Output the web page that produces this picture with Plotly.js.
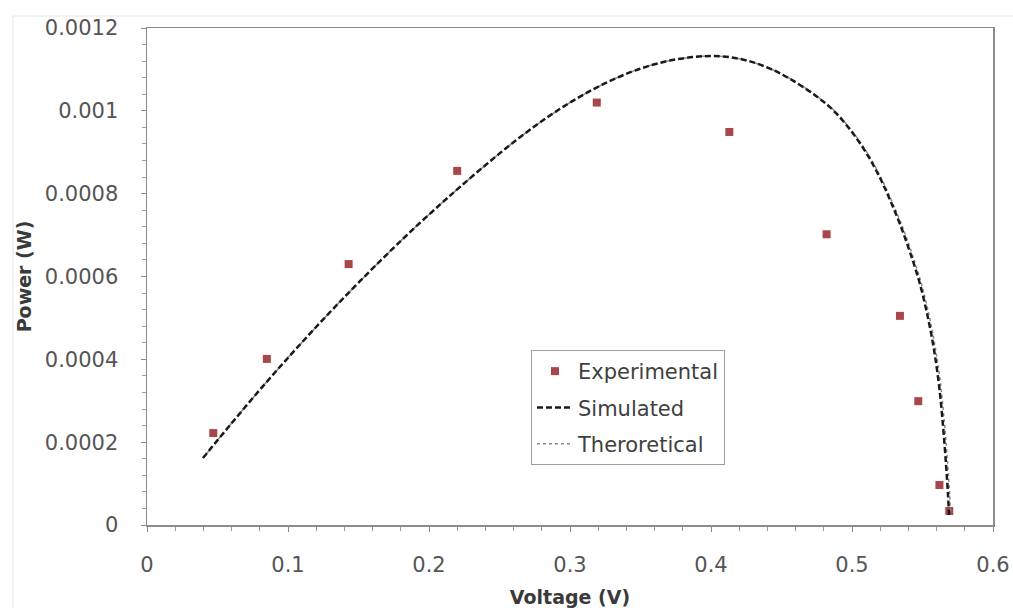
<!DOCTYPE html>
<html>
<head>
<meta charset="utf-8">
<script src="https://cdn.plot.ly/plotly-3.0.1.min.js"></script>
<style>
  html, body { margin: 0; padding: 0; background: #ffffff; }
  #chart { width: 1013px; height: 608px; }
</style>
</head>
<body>
<div id="chart"></div>
<script>
// Experimental measurements
const expVoltage = [0.047, 0.085, 0.143, 0.220, 0.319, 0.413, 0.482, 0.534, 0.547, 0.562, 0.569];
const expPower   = [0.000222, 0.000401, 0.000630, 0.000855, 0.00102, 0.000949, 0.000702, 0.000505, 0.000299, 0.0000966, 0.0000338];

// Simulated curve
const simVoltage = [0.0397, 0.0589, 0.0801, 0.1014, 0.1227, 0.1440, 0.1653, 0.1865, 0.2078, 0.2220, 0.2433, 0.2645, 0.2858, 0.3071, 0.3284, 0.3497, 0.3709, 0.3887, 0.4007, 0.4135, 0.4277, 0.4418, 0.4560, 0.4745, 0.4865, 0.4986, 0.5106, 0.5199, 0.5270, 0.5340, 0.5411, 0.5482, 0.5539, 0.5582, 0.5617, 0.5645, 0.5667, 0.5681, 0.5688];
const simPower   = [0.0001618, 0.0002412, 0.0003267, 0.0004090, 0.0004882, 0.0005643, 0.0006372, 0.0007070, 0.0007736, 0.0008163, 0.0008782, 0.0009363, 0.0009887, 0.0010344, 0.0010723, 0.0011017, 0.0011215, 0.0011302, 0.0011322, 0.0011295, 0.0011194, 0.0011020, 0.0010773, 0.0010358, 0.0010020, 0.0009549, 0.0008958, 0.0008378, 0.0007847, 0.0007268, 0.0006592, 0.0005819, 0.0004998, 0.0004225, 0.0003380, 0.0002414, 0.0001449, 0.0000724, 0.0000241];

// Theoretical curve
const theoVoltage = [0.0397, 0.0589, 0.0801, 0.1014, 0.1227, 0.1440, 0.1653, 0.1865, 0.2078, 0.2220, 0.2433, 0.2645, 0.2858, 0.3071, 0.3284, 0.3497, 0.3709, 0.3887, 0.4007, 0.4135, 0.4277, 0.4418, 0.4562, 0.4749, 0.4870, 0.4992, 0.5113, 0.5207, 0.5279, 0.5350, 0.5422, 0.5493, 0.5551, 0.5594, 0.5629, 0.5657, 0.5679, 0.5693, 0.5700];
const theoPower  = [0.0001618, 0.0002412, 0.0003267, 0.0004090, 0.0004882, 0.0005643, 0.0006372, 0.0007070, 0.0007736, 0.0008163, 0.0008782, 0.0009363, 0.0009887, 0.0010344, 0.0010723, 0.0011017, 0.0011215, 0.0011302, 0.0011322, 0.0011295, 0.0011194, 0.0011020, 0.0010773, 0.0010358, 0.0010020, 0.0009549, 0.0008958, 0.0008378, 0.0007847, 0.0007268, 0.0006592, 0.0005819, 0.0004998, 0.0004225, 0.0003380, 0.0002414, 0.0001449, 0.0000724, 0.0000241];

// Axis ticks
const xTickVals = [0, 0.1, 0.2, 0.3, 0.4, 0.5, 0.6];
const xTickText = ["0", "0.1", "0.2", "0.3", "0.4", "0.5", "0.6"];
const yTickVals = [0, 0.0002, 0.0004, 0.0006, 0.0008, 0.001, 0.0012];
const yTickText = ["0", "0.0002", "0.0004", "0.0006", "0.0008", "0.001", "0.0012"];

const seriesNames = ["Experimental", "Simulated", "Theroretical"];

const font = "DejaVu Sans, sans-serif";

const traces = [
  {
    x: expVoltage, y: expPower, name: seriesNames[0], type: "scatter", mode: "markers",
    marker: { symbol: "square", size: 8, color: "#a8474b" },
    legendgroup: "a", legendrank: 1
  },
  {
    x: theoVoltage, y: theoPower, name: seriesNames[2], type: "scatter", mode: "lines",
    line: { color: "#8a8a8a", width: 1.5, dash: "dot", shape: "spline", smoothing: 1 },
    legendgroup: "c", legendrank: 3
  },
  {
    x: simVoltage, y: simPower, name: seriesNames[1], type: "scatter", mode: "lines",
    line: { color: "#1a1a1a", width: 2.5, dash: "6px,3px", shape: "spline", smoothing: 1 },
    legendgroup: "b", legendrank: 2
  }
];

// pixel positions converted to paper coords
const px2x = p => (p - 147) / 846;
const px2y = p => (525 - p) / 497;

const layout = {
  width: 1013, height: 608,
  margin: { l: 147, r: 20, t: 28, b: 83 },
  paper_bgcolor: "#ffffff",
  plot_bgcolor: "#ffffff",
  font: { family: font, size: 21, color: "#555555" },
  showlegend: true,
  legend: {
    x: px2x(531), y: px2y(350), xanchor: "left", yanchor: "top",
    bordercolor: "#a0a0a0", borderwidth: 1, bgcolor: "#ffffff",
    font: { family: font, size: 21, color: "#404040" },
    traceorder: "grouped", tracegroupgap: 6,
    itemwidth: 36
  },
  shapes: [
    { type: "line", xref: "paper", yref: "paper", x0: px2x(13), x1: px2x(1013), y0: px2y(16), y1: px2y(16),
      line: { color: "#e4e4e4", width: 1 } },
    { type: "line", xref: "paper", yref: "paper", x0: px2x(13), x1: px2x(13), y0: px2y(16), y1: px2y(608),
      line: { color: "#e4e4e4", width: 1 } }
  ],
  xaxis: {
    range: [0, 0.6], tickvals: xTickVals, ticktext: xTickText,
    showgrid: false, zeroline: false,
    showline: true, linecolor: "#8c8c8c", linewidth: 1.5, mirror: true,
    ticks: "outside", ticklen: 5, tickcolor: "#8c8c8c",
    ticklabelstandoff: 15,
    minor: { dtick: 0.02, ticks: "outside", ticklen: 4, tickcolor: "#9a9a9a", showgrid: false },
    tickfont: { family: font, size: 21, color: "#555555" },
    title: { text: "<b>Voltage (V)</b>", font: { family: font, size: 19, color: "#3a3a3a" }, standoff: 15 }
  },
  yaxis: {
    range: [0, 0.0012], tickvals: yTickVals, ticktext: yTickText,
    showgrid: false, zeroline: false,
    showline: true, linecolor: "#8c8c8c", linewidth: 1.5, mirror: true,
    ticks: "outside", ticklen: 5, tickcolor: "#8c8c8c",
    ticklabelstandoff: 18,
    minor: { dtick: 0.00004, ticks: "outside", ticklen: 4, tickcolor: "#9a9a9a", showgrid: false },
    tickfont: { family: font, size: 21, color: "#555555" },
    title: { text: "<b>Power (W)</b>", font: { family: font, size: 19, color: "#3a3a3a" }, standoff: 8 }
  }
};

Plotly.newPlot("chart", traces, layout, { displayModeBar: false, staticPlot: true });
</script>
</body>
</html>
